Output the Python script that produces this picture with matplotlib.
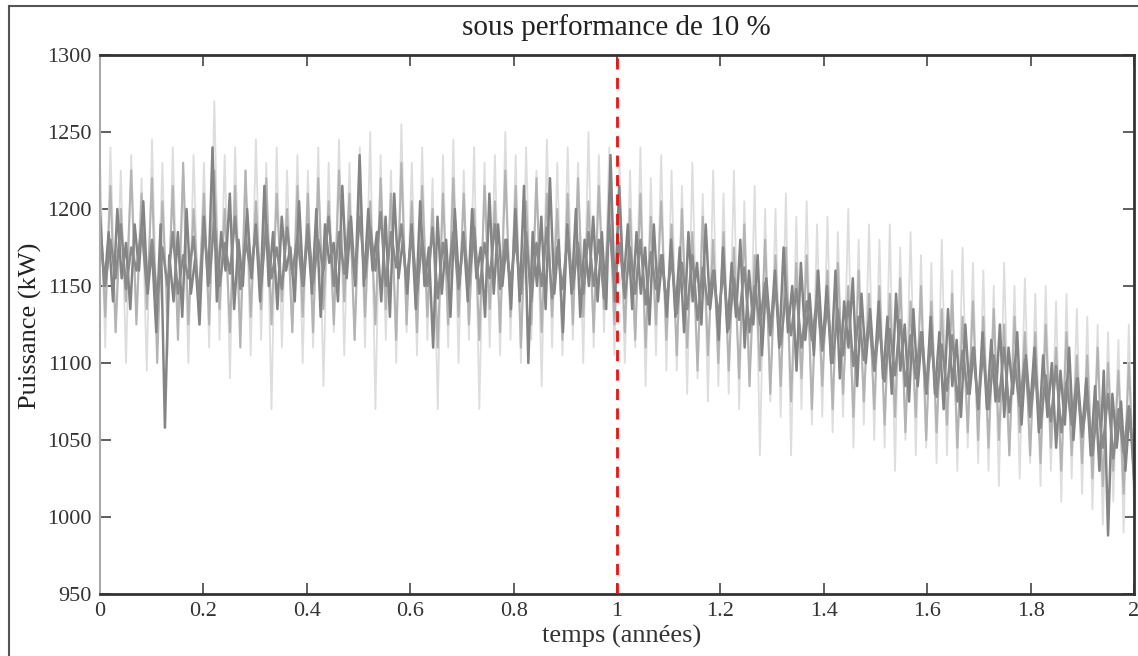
import numpy as np
import matplotlib
matplotlib.use("Agg")
import matplotlib.pyplot as plt
from matplotlib.patches import Rectangle

# puissance (kW), overlaid traces
light_kw = [
    1230, 1110, 1240, 1120, 1225, 1100, 1235, 1130, 1220, 1095,
    1245, 1115, 1230, 1105, 1240, 1120, 1225, 1100, 1235, 1125,
    1230, 1110, 1270, 1115, 1235, 1090, 1240, 1120, 1225, 1105,
    1245, 1115, 1230, 1070, 1240, 1110, 1225, 1120, 1235, 1100,
    1225, 1110, 1240, 1085, 1230, 1120, 1245, 1105, 1230, 1115,
    1240, 1110, 1250, 1070, 1235, 1115, 1225, 1100, 1255, 1120,
    1230, 1105, 1240, 1115, 1220, 1070, 1235, 1110, 1245, 1100,
    1225, 1115, 1240, 1070, 1230, 1110, 1235, 1105, 1250, 1115,
    1235, 1100, 1240, 1115, 1225, 1085, 1245, 1110, 1230, 1105,
    1240, 1115, 1230, 1100, 1250, 1110, 1235, 1120, 1240, 1105,
    1230, 1100, 1225, 1110, 1240, 1085, 1220, 1105, 1235, 1095,
    1225, 1095, 1215, 1080, 1230, 1090, 1210, 1075, 1225, 1085,
    1210, 1080, 1225, 1070, 1205, 1085, 1215, 1040, 1200, 1075,
    1200, 1065, 1210, 1040, 1195, 1070, 1205, 1060, 1190, 1065,
    1195, 1055, 1185, 1065, 1200, 1045, 1180, 1060, 1190, 1050,
    1180, 1045, 1190, 1030, 1175, 1050, 1185, 1040, 1170, 1045,
    1165, 1035, 1180, 1040, 1160, 1030, 1175, 1045, 1165, 1035,
    1160, 1030, 1150, 1020, 1165, 1040, 1150, 1025, 1155, 1035,
    1145, 1020, 1150, 1030, 1140, 1010, 1145, 1025, 1135, 1015,
    1130, 1005, 1125, 995, 1120, 1010, 1115, 990, 1125, 1005,
]

mid_kw = [
    1205, 1130, 1215, 1120, 1200, 1140, 1225, 1125, 1210, 1135,
    1220, 1100, 1205, 1130, 1215, 1115, 1230, 1125, 1200, 1140,
    1210, 1125, 1225, 1135, 1200, 1120, 1215, 1110, 1225, 1130,
    1205, 1135, 1220, 1125, 1210, 1140, 1200, 1120, 1215, 1130,
    1210, 1120, 1220, 1135, 1205, 1125, 1225, 1140, 1210, 1115,
    1215, 1130, 1205, 1125, 1220, 1135, 1210, 1115, 1230, 1125,
    1205, 1120, 1215, 1130, 1200, 1110, 1210, 1125, 1220, 1130,
    1210, 1125, 1200, 1115, 1215, 1135, 1205, 1120, 1225, 1130,
    1215, 1110, 1205, 1125, 1220, 1120, 1210, 1130, 1200, 1115,
    1210, 1125, 1220, 1130, 1205, 1120, 1215, 1135, 1210, 1125,
    1205, 1120, 1200, 1115, 1210, 1110, 1195, 1125, 1205, 1115,
    1190, 1105, 1200, 1110, 1185, 1095, 1195, 1105, 1180, 1100,
    1185, 1095, 1175, 1090, 1190, 1085, 1170, 1095, 1180, 1080,
    1170, 1085, 1175, 1075, 1165, 1090, 1170, 1070, 1160, 1085,
    1160, 1070, 1165, 1080, 1150, 1065, 1160, 1075, 1145, 1070,
    1150, 1060, 1145, 1065, 1155, 1055, 1140, 1065, 1150, 1050,
    1140, 1055, 1135, 1060, 1145, 1045, 1130, 1055, 1140, 1050,
    1130, 1045, 1135, 1050, 1125, 1040, 1130, 1055, 1120, 1040,
    1120, 1035, 1125, 1045, 1110, 1030, 1120, 1040, 1105, 1035,
    1105, 1025, 1110, 1020, 1100, 1030, 1095, 1015, 1100, 1020,
]

dark_kw = [
    1195, 1150, 1185, 1140, 1200, 1155, 1178, 1135, 1190, 1160, 1205, 1145,
    1175, 1120, 1190, 1058, 1170, 1140, 1185, 1130, 1200, 1145, 1168, 1125,
    1195, 1150, 1240, 1140, 1185, 1160, 1210, 1135, 1180, 1150, 1200, 1155,
    1190, 1140, 1215, 1150, 1185, 1135, 1195, 1160, 1175, 1140, 1205, 1150,
    1185, 1145, 1200, 1130, 1190, 1165, 1178, 1140, 1215, 1155, 1195, 1150,
    1235, 1150, 1200, 1160, 1185, 1140, 1195, 1130, 1210, 1155, 1180, 1145,
    1190, 1135, 1205, 1150, 1175, 1110, 1195, 1145, 1180, 1130, 1200, 1150,
    1185, 1140, 1200, 1155, 1175, 1130, 1210, 1145, 1190, 1150, 1180, 1135,
    1200, 1140, 1215, 1100, 1185, 1150, 1195, 1135, 1220, 1145, 1180, 1120,
    1190, 1145, 1200, 1130, 1180, 1150, 1195, 1140, 1185, 1135, 1235, 1140,
    1215, 1150, 1190, 1135, 1185, 1145, 1175, 1125, 1190, 1140, 1170, 1130,
    1180, 1130, 1175, 1120, 1185, 1140, 1165, 1125, 1190, 1135, 1160, 1115,
    1175, 1120, 1165, 1130, 1180, 1110, 1160, 1125, 1170, 1105, 1155, 1120,
    1160, 1110, 1175, 1120, 1150, 1095, 1165, 1115, 1145, 1105, 1160, 1110,
    1150, 1100, 1160, 1090, 1140, 1110, 1155, 1085, 1145, 1100, 1135, 1095,
    1140, 1090, 1130, 1080, 1145, 1095, 1125, 1075, 1135, 1085, 1120, 1080,
    1130, 1080, 1120, 1070, 1135, 1085, 1115, 1065, 1125, 1080, 1110, 1070,
    1120, 1070, 1115, 1075, 1125, 1065, 1110, 1080, 1120, 1060, 1105, 1070,
    1110, 1055, 1105, 1065, 1100, 1045, 1095, 1060, 1110, 1050, 1090, 1055,
    1090, 1040, 1085, 1030, 1095, 988, 1080, 1045, 1075, 1030, 1070, 1025,
]

core_kw = [
    1185, 1150, 1180, 1155, 1190, 1148, 1175, 1160, 1188, 1150,
    1180, 1140, 1175, 1150, 1185, 1145, 1170, 1155, 1182, 1142,
    1188, 1152, 1192, 1150, 1178, 1158, 1195, 1148, 1180, 1160,
    1185, 1150, 1190, 1155, 1175, 1148, 1188, 1158, 1182, 1150,
    1190, 1152, 1180, 1160, 1195, 1150, 1185, 1158, 1192, 1155,
    1195, 1155, 1188, 1160, 1198, 1150, 1185, 1162, 1190, 1152,
    1185, 1145, 1180, 1150, 1188, 1142, 1178, 1155, 1185, 1148,
    1182, 1150, 1188, 1145, 1178, 1155, 1190, 1148, 1180, 1152,
    1180, 1145, 1185, 1140, 1178, 1150, 1188, 1142, 1175, 1148,
    1182, 1148, 1178, 1145, 1185, 1150, 1180, 1142, 1190, 1150,
    1178, 1142, 1175, 1145, 1180, 1138, 1172, 1148, 1170, 1140,
    1168, 1132, 1165, 1135, 1170, 1128, 1162, 1138, 1160, 1130,
    1160, 1122, 1155, 1128, 1162, 1120, 1150, 1125, 1152, 1118,
    1150, 1112, 1145, 1118, 1148, 1110, 1140, 1115, 1142, 1108,
    1138, 1100, 1135, 1105, 1140, 1098, 1130, 1102, 1128, 1095,
    1125, 1088, 1122, 1092, 1128, 1085, 1118, 1090, 1120, 1082,
    1115, 1078, 1112, 1082, 1118, 1075, 1108, 1080, 1110, 1072,
    1108, 1070, 1105, 1075, 1110, 1068, 1100, 1072, 1102, 1065,
    1095, 1058, 1092, 1062, 1098, 1055, 1088, 1060, 1090, 1052,
    1078, 1040, 1075, 1045, 1080, 1038, 1070, 1042, 1072, 1035,
]

x_ticks = [0, 0.2, 0.4, 0.6, 0.8, 1, 1.2, 1.4, 1.6, 1.8, 2]
y_ticks = [950, 1000, 1050, 1100, 1150, 1200, 1250, 1300]
change_year = 1

serif = ["Liberation Serif", "DejaVu Serif"]
plt.rcParams["font.family"] = serif

fig = plt.figure(figsize=(11.38, 6.56), dpi=100)
ax = fig.add_axes([0.0879, 0.0945, 0.9086, 0.8217])

for vals, col, lw in [(light_kw, "#dddddd", 1.3),
                      (mid_kw, "#b3b3b3", 1.5),
                      (dark_kw, "#848484", 1.8),
                      (core_kw, "#8a8a8a", 1.8)]:
    t = np.linspace(0, 2, len(vals))
    ax.plot(t, vals, color=col, lw=lw)

ax.axvline(change_year, color="#ee1111", ls=(0, (4, 3)), lw=2, zorder=5)

ax.set_xlim(0, 2)
ax.set_ylim(950, 1300)
ax.set_xticks(x_ticks)
ax.set_xticklabels(["0", "0.2", "0.4", "0.6", "0.8", "1", "1.2", "1.4", "1.6", "1.8", "2"])
ax.set_yticks(y_ticks)
ax.tick_params(direction="in", length=8, width=1.2, top=True, right=True,
               labelsize=16, labelcolor="#333333", color="#444444", pad=6)

for side in ["top", "bottom", "right"]:
    ax.spines[side].set_linewidth(2)
    ax.spines[side].set_color("#333333")
ax.spines["left"].set_linewidth(1.5)
ax.spines["left"].set_color("#aaaaaa")

fig.text(0.542, 0.958, "sous performance de 10 %", ha="center", va="center",
         fontsize=21, color="#222222")
fig.text(0.546, 0.030, "temps (années)", ha="center", va="center",
         fontsize=19, color="#333333")
fig.text(0.027, 0.504, "Puissance (kW)", ha="center", va="center",
         rotation=90, fontsize=19, color="#222222")

# outer frame around the figure
fig.patches.append(Rectangle((0.0079, -0.02), 1.1, 1.0109, transform=fig.transFigure,
                             fill=False, edgecolor="#555555", lw=1.5))

fig.savefig("out.png", dpi=100)
